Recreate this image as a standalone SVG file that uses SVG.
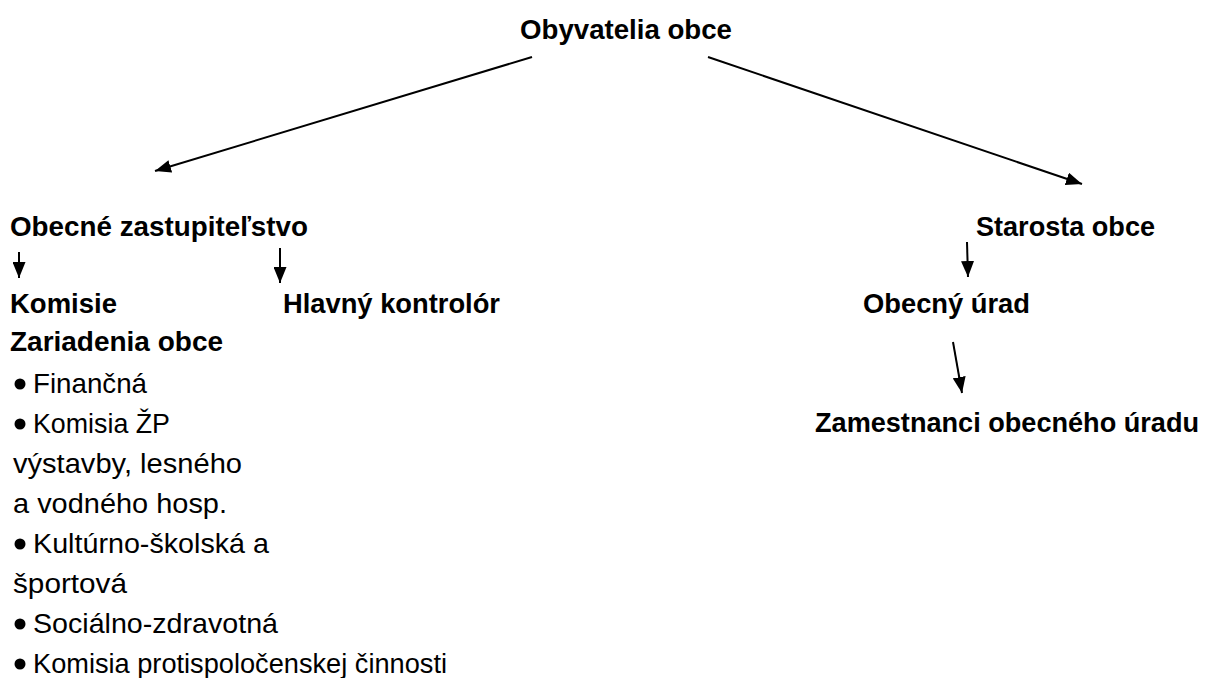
<svg xmlns="http://www.w3.org/2000/svg" width="1212" height="678" viewBox="0 0 1212 678">
<style>
.b{font-family:"Liberation Sans",Arial,sans-serif;font-weight:bold;font-size:28px;fill:#000}
.n{font-family:"Liberation Sans",Arial,sans-serif;font-size:27.5px;fill:#000}
.c{stroke:#000;stroke-width:2;fill:none}
</style>
<defs>
<marker id="ah" markerUnits="userSpaceOnUse" markerWidth="16" markerHeight="13" refX="16" refY="6.5" orient="auto">
<path d="M0,0 L16,6.5 L0,13 z" fill="#000"/>
</marker>
</defs>
<rect width="1212" height="678" fill="#fff"/>
<g id="connectors">
<line class="c" x1="532" y1="57" x2="155" y2="171" marker-end="url(#ah)"/>
<line class="c" x1="708" y1="57" x2="1082" y2="184" marker-end="url(#ah)"/>
<line class="c" x1="19" y1="252" x2="19" y2="278" marker-end="url(#ah)"/>
<line class="c" x1="280" y1="248" x2="280" y2="283" marker-end="url(#ah)"/>
<line class="c" x1="967" y1="242" x2="968" y2="277" marker-end="url(#ah)"/>
<line class="c" x1="953" y1="342" x2="962" y2="393" marker-end="url(#ah)"/>
</g>
<g id="obyvatelia"><text class="b" x="520" y="39" textLength="212" lengthAdjust="spacingAndGlyphs">Obyvatelia obce</text></g>
<g id="zastupitelstvo"><text class="b" x="10" y="236" textLength="298" lengthAdjust="spacingAndGlyphs">Obecné zastupiteľstvo</text></g>
<g id="starosta"><text class="b" x="976" y="236" textLength="179" lengthAdjust="spacingAndGlyphs">Starosta obce</text></g>
<g id="komisie">
<text class="b" x="10" y="313" textLength="107" lengthAdjust="spacingAndGlyphs">Komisie</text>
<text class="b" x="10" y="351" textLength="213" lengthAdjust="spacingAndGlyphs">Zariadenia obce</text>
<circle cx="20" cy="384" r="5.5"/>
<text class="n" x="33" y="393" textLength="114" lengthAdjust="spacingAndGlyphs">Finančná</text>
<circle cx="20" cy="424" r="5.5"/>
<text class="n" x="33" y="433" textLength="137" lengthAdjust="spacingAndGlyphs">Komisia ŽP</text>
<text class="n" x="13" y="473" textLength="229" lengthAdjust="spacingAndGlyphs">výstavby, lesného</text>
<text class="n" x="13" y="513" textLength="214" lengthAdjust="spacingAndGlyphs">a vodného hosp.</text>
<circle cx="20" cy="544" r="5.5"/>
<text class="n" x="33" y="553" textLength="236" lengthAdjust="spacingAndGlyphs">Kultúrno-školská a</text>
<text class="n" x="13" y="593" textLength="114" lengthAdjust="spacingAndGlyphs">športová</text>
<circle cx="20" cy="624" r="5.5"/>
<text class="n" x="33" y="633" textLength="245" lengthAdjust="spacingAndGlyphs">Sociálno-zdravotná</text>
<circle cx="20" cy="664" r="5.5"/>
<text class="n" x="33" y="673" textLength="414" lengthAdjust="spacingAndGlyphs">Komisia protispoločenskej činnosti</text>
</g>
<g id="kontrolor"><text class="b" x="283" y="313" textLength="217" lengthAdjust="spacingAndGlyphs">Hlavný kontrolór</text></g>
<g id="urad"><text class="b" x="863" y="313" textLength="167" lengthAdjust="spacingAndGlyphs">Obecný úrad</text></g>
<g id="zamestnanci"><text class="b" x="815" y="432" textLength="384" lengthAdjust="spacingAndGlyphs">Zamestnanci obecného úradu</text></g>
</svg>
